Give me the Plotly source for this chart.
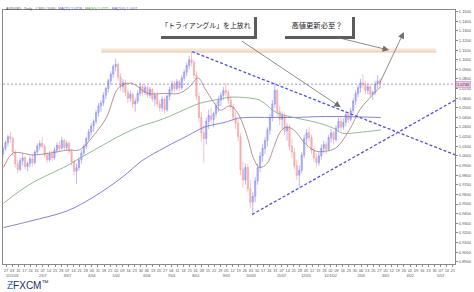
import plotly.graph_objects as go
import pandas as pd

# ---------------- data (prices in 1/1000 units, two trading days per bar) -------------
bar_open = [1002,1008,1014,1020,1018,1004,992,986,995,998,989,992,997,993,1004,1010,1013,1010,1001,996,
            1002,998,1006,1011,1008,1016,1009,1013,1005,994,984,988,996,1003,1010,1018,1025,1031,1036,1045,
            1052,1055,1063,1070,1078,1085,1093,1095,1082,1072,1076,1066,1060,1064,1054,1057,1065,1072,1066,1071,
            1063,1069,1059,1063,1054,1050,1059,1048,1062,1069,1075,1070,1077,1071,1081,1087,1094,1100,1097,1084,
            1062,1040,1024,1018,1036,1042,1038,1044,1052,1058,1063,1068,1066,1058,1051,1040,1034,1020,986,975,
            988,966,952,958,974,988,1000,1008,1016,1027,1040,1054,1068,1046,1038,1042,1026,1030,1010,1004,
            990,980,985,1001,1018,1024,1019,1006,998,993,1000,1008,1012,1007,1019,1024,1017,1029,1036,1030,
            1035,1043,1038,1047,1057,1065,1071,1076,1074,1068,1072,1064,1066,1075,1078]
bar_high = [1010,1016,1022,1025,1020,1006,996,998,1003,1000,994,1000,1002,1006,1013,1016,1019,1012,1004,1005,
            1006,1009,1014,1015,1020,1018,1016,1015,1007,997,992,999,1006,1012,1020,1028,1034,1038,1048,1055,
            1058,1066,1072,1080,1088,1095,1101,1097,1086,1080,1079,1070,1068,1066,1060,1068,1076,1075,1074,1073,
            1072,1071,1066,1067,1058,1062,1061,1064,1072,1078,1078,1080,1079,1084,1090,1097,1104,1108,1100,1088,
            1066,1046,1032,1040,1048,1050,1046,1056,1062,1066,1072,1076,1069,1062,1054,1046,1038,1024,994,992,
            992,975,962,978,992,1004,1012,1020,1030,1044,1058,1076,1070,1052,1046,1045,1034,1033,1018,1008,
            996,990,1004,1022,1028,1030,1022,1010,1003,1004,1012,1016,1015,1022,1028,1026,1032,1040,1040,1039,
            1046,1045,1050,1060,1068,1074,1080,1085,1078,1076,1075,1068,1078,1084,1081]
bar_low = [998,1005,1010,1014,1000,988,982,984,990,986,984,988,989,991,1001,1006,1008,998,993,994,
           995,996,1003,1005,1007,1006,1006,1002,990,980,971,985,992,1000,1007,1015,1021,1025,1033,1041,
           1046,1052,1059,1066,1074,1081,1088,1078,1068,1066,1062,1055,1056,1050,1046,1054,1062,1062,1063,1060,
           1060,1056,1052,1051,1046,1046,1044,1046,1058,1065,1066,1068,1067,1069,1078,1083,1090,1093,1080,1058,
           1035,1015,993,1012,1028,1034,1030,1040,1046,1052,1058,1062,1054,1048,1036,1028,1015,980,967,970,
           962,946,938,952,970,983,994,1002,1010,1022,1036,1050,1040,1032,1028,1022,1016,1006,998,986,
           975,967,982,998,1012,1015,1002,994,988,990,996,1003,1002,1005,1014,1012,1015,1025,1026,1027,
           1031,1034,1036,1044,1053,1061,1066,1070,1064,1064,1061,1058,1063,1070,1070]
bar_close = [1008,1014,1020,1018,1004,992,986,995,998,989,992,997,993,1004,1010,1013,1010,1001,996,1002,
             998,1006,1011,1008,1016,1009,1013,1005,994,984,988,996,1003,1010,1018,1025,1031,1036,1045,1052,
             1055,1063,1070,1078,1085,1093,1095,1082,1072,1076,1066,1060,1064,1054,1057,1065,1072,1066,1071,1063,
             1069,1059,1063,1054,1050,1059,1048,1062,1069,1075,1070,1077,1071,1081,1087,1094,1100,1097,1084,1062,
             1040,1024,1018,1036,1042,1038,1044,1052,1058,1063,1068,1066,1058,1051,1040,1034,1020,986,975,988,
             966,952,958,974,988,1000,1008,1016,1027,1040,1054,1068,1046,1038,1042,1026,1030,1010,1004,990,
             980,985,1001,1018,1024,1019,1006,998,993,1000,1008,1012,1007,1019,1024,1017,1029,1036,1030,1035,
             1043,1038,1047,1057,1065,1071,1076,1074,1068,1072,1064,1066,1075,1078,1075]

# moving averages (trading-day index, price)
ma21_x = [1, 9, 25, 39, 53, 62, 66, 75, 85, 95, 105, 119, 133, 144, 152, 160, 165, 173, 178, 186,
          192, 200, 205, 210, 216, 222, 227, 232, 238, 248, 256, 264, 272, 280, 286, 292, 302, 309]
ma21_y = [0.988, 1.003, 1.001, 1.003, 1.006, 1.006, 1.009, 1.022, 1.040, 1.071, 1.0756, 1.065, 1.065, 1.065,
          1.071, 1.081, 1.071, 1.055, 1.0475, 1.052, 1.045, 1.020, 0.998, 0.988, 0.992, 1.010, 1.025, 1.030,
          1.027, 1.012, 1.005, 1.005, 1.008, 1.020, 1.033, 1.048, 1.063, 1.072]
ma90_x = [1, 23, 53, 63, 79, 93, 111, 128, 138, 152, 162, 173, 186, 194, 210, 224, 238, 259, 270, 278, 291, 309]
ma90_y = [0.951, 0.971, 0.990, 0.9975, 1.009, 1.019, 1.030, 1.037, 1.042, 1.050, 1.055, 1.058, 1.061, 1.061,
          1.058, 1.045, 1.040, 1.034, 1.029, 1.0235, 1.0245, 1.027]
ma200_x = [1, 25, 53, 74, 98, 114, 133, 152, 165, 182, 192, 200, 219, 238, 264, 309]
ma200_y = [0.9256, 0.933, 0.943, 0.957, 0.978, 0.995, 1.009, 1.0215, 1.030, 1.035, 1.039, 1.040, 1.040,
           1.040, 1.041, 1.040]

# drawn trend lines (trading-day index, price)
upper_x = [155, 369.7]
upper_y = [1.1084, 1.0012]
lower_x = [204, 369.7]
lower_y = [0.9392, 1.0579]
last_price = 1.0746

start_date = "2010-12-22"
n_days = 371

# ---------------- build ----------------
bar_x = [2 * k + 0.5 for k in range(len(bar_close))]
o = [v / 1000 for v in bar_open]
h = [v / 1000 for v in bar_high]
l = [v / 1000 for v in bar_low]
c = [v / 1000 for v in bar_close]

days = pd.bdate_range(start_date, periods=n_days)
tickvals, ticktext = [], []
first = True
for i, d in enumerate(days):
    if d.weekday() == 0:
        top = d.strftime("%d")
        if d.day <= 7:
            if d.month == 1 or first:
                bot = f"{d.year % 100}/{d.month}/{d.day:02d}"
            else:
                bot = f"{d.month}/{d.day:02d}"
            first = False
            txt = top + "<br>" + bot
        else:
            txt = top
        tickvals.append(i)
        ticktext.append(txt)

fig = go.Figure()
fig.add_trace(go.Candlestick(
    x=bar_x, open=o, high=h, low=l, close=c,
    increasing=dict(line=dict(color="#8a8af2", width=0.6), fillcolor="#b9baf8"),
    decreasing=dict(line=dict(color="#f29a9a", width=0.6), fillcolor="#f8c0c0"),
    whiskerwidth=0, showlegend=False, hoverinfo="skip"))

fig.add_trace(go.Scatter(x=ma200_x, y=ma200_y, mode="lines", line=dict(color="#7474d2", width=0.9, shape="spline"), showlegend=False))
fig.add_trace(go.Scatter(x=ma90_x, y=ma90_y, mode="lines", line=dict(color="#86b086", width=0.9, shape="spline"), showlegend=False))
fig.add_trace(go.Scatter(x=ma21_x, y=ma21_y, mode="lines", line=dict(color="#a07a7a", width=0.8, shape="spline"), showlegend=False))

X0, X1 = 0.48, 369.7
Y0, Y1 = 0.88771, 1.15167
fig.add_trace(go.Scatter(x=[X0, X1], y=[last_price, last_price], mode="lines",
                         line=dict(color="#7070d8", width=0.7, dash="2px,2px"), showlegend=False))
fig.add_trace(go.Scatter(x=upper_x, y=upper_y, mode="lines",
                         line=dict(color="#5050dc", width=1.3, dash="3px,2px"), showlegend=False))
fig.add_trace(go.Scatter(x=lower_x, y=lower_y, mode="lines",
                         line=dict(color="#5050dc", width=1.3, dash="3px,2px"), showlegend=False))

# pixel helpers for annotation geometry
L, R, T, B = 2, 461, 10, 264
W, H = R - L, B - T
def px(x): return (x - L) / W
def py(y): return (B - y) / H

shapes = []
# resistance band
shapes.append(dict(type="rect", xref="paper", yref="paper", x0=px(102), x1=px(442), y0=py(52.5), y1=py(48.5),
                   fillcolor="#f8e3d1", line=dict(width=0), layer="below"))
shapes.append(dict(type="rect", xref="paper", yref="paper", x0=px(102), x1=px(442), y0=py(52.5), y1=py(51.3),
                   fillcolor="#efcfb6", line=dict(width=0), layer="below"))

ann = []
# callout boxes: dark shadow box (offset) then white box with text on top
callouts = [("「トライアングル」を上放れ", 208, 96, 6.9), ("高値更新必至？", 321, 70, 7.3)]
for text, cx, bw, fs in callouts:
    ann.append(dict(xref="paper", yref="paper", x=px(cx), y=py(24.5), xanchor="center", yanchor="middle",
                    xshift=3, yshift=-3.5, width=bw, height=22, text=" ", showarrow=False,
                    bgcolor="#5c5c5c", borderpad=0, borderwidth=0,
                    font=dict(family="Noto Sans CJK JP", size=fs, color="#5c5c5c")))
for text, cx, bw, fs in callouts:
    ann.append(dict(xref="paper", yref="paper", x=px(cx), y=py(24.5), xanchor="center", yanchor="middle",
                    width=bw, height=22, text=text, showarrow=False,
                    bgcolor="white", borderpad=0, borderwidth=0,
                    font=dict(family="Noto Sans CJK JP", size=fs, color="#222")))
# arrows (tail -> head in data coords)
for (tx, ty, hx, hy) in [(194.4, 1.1204, 276.4, 1.0506), (272.4, 1.1235, 315.8, 1.1100), (307.8, 1.0746, 327.9, 1.1288)]:
    ann.append(dict(xref="x", yref="y", axref="x", ayref="y", x=hx, y=hy, ax=tx, ay=ty, text="",
                    showarrow=True, arrowhead=2, arrowsize=1.6, arrowwidth=0.8, arrowcolor="#6e6e6e"))
# header
ann.append(dict(xref="paper", yref="paper", x=px(3), y=py(8.5), xanchor="left", yanchor="middle", showarrow=False,
                text="AUDUSD , Daily , # 305 / 1000 , <span style='color:#4b4bd0'>MA(21) 1.0718</span> , "
                     "<span style='color:#4a9a4a'>MA(90) 1.0271</span> , <span style='color:#5b5bc0'>MA(200) 1.0401</span>",
                font=dict(family="Liberation Sans", size=3.6, color="#444")))
# current price tag
ann.append(dict(xref="paper", yref="y", x=px(462.5), y=last_price, xanchor="left", yanchor="middle", showarrow=False,
                text="1.0746", bgcolor="#f2c6ea", bordercolor="#c58ac0", borderwidth=0.5, borderpad=0.5,
                font=dict(family="Liberation Sans", size=4, color="#333")))
# logo
ann.append(dict(xref="paper", yref="paper", x=px(4), y=py(285), xanchor="left", yanchor="middle", showarrow=False,
                text="<span style='color:#2d6fd8'>Ƶ</span>FXCM<sup>™</sup>",
                font=dict(family="Liberation Sans", size=10, color="#1c2d6b")))

fig.update_layout(
    width=474, height=292, margin=dict(l=L, r=474 - R, t=T, b=292 - B),
    paper_bgcolor="white", plot_bgcolor="white", showlegend=False,
    shapes=shapes, annotations=ann,
    xaxis=dict(range=[X0, X1], showgrid=False, zeroline=False, showline=True, mirror=True,
               linecolor="#8a8a8a", linewidth=1, ticks="outside", ticklen=2, tickcolor="#8a8a8a",
               tickvals=tickvals, ticktext=ticktext, tickangle=0,
               tickfont=dict(family="Liberation Sans", size=3.8, color="#555"),
               rangeslider=dict(visible=False)),
    yaxis=dict(range=[Y0, Y1], side="right", showgrid=False, zeroline=False, showline=True, mirror=True,
               linecolor="#8a8a8a", linewidth=1, ticks="outside", ticklen=2, tickcolor="#8a8a8a",
               dtick=0.01, tick0=0.9, tickformat=".4f",
               tickfont=dict(family="Liberation Sans", size=4, color="#555")),
)
fig.write_html("out.html")
